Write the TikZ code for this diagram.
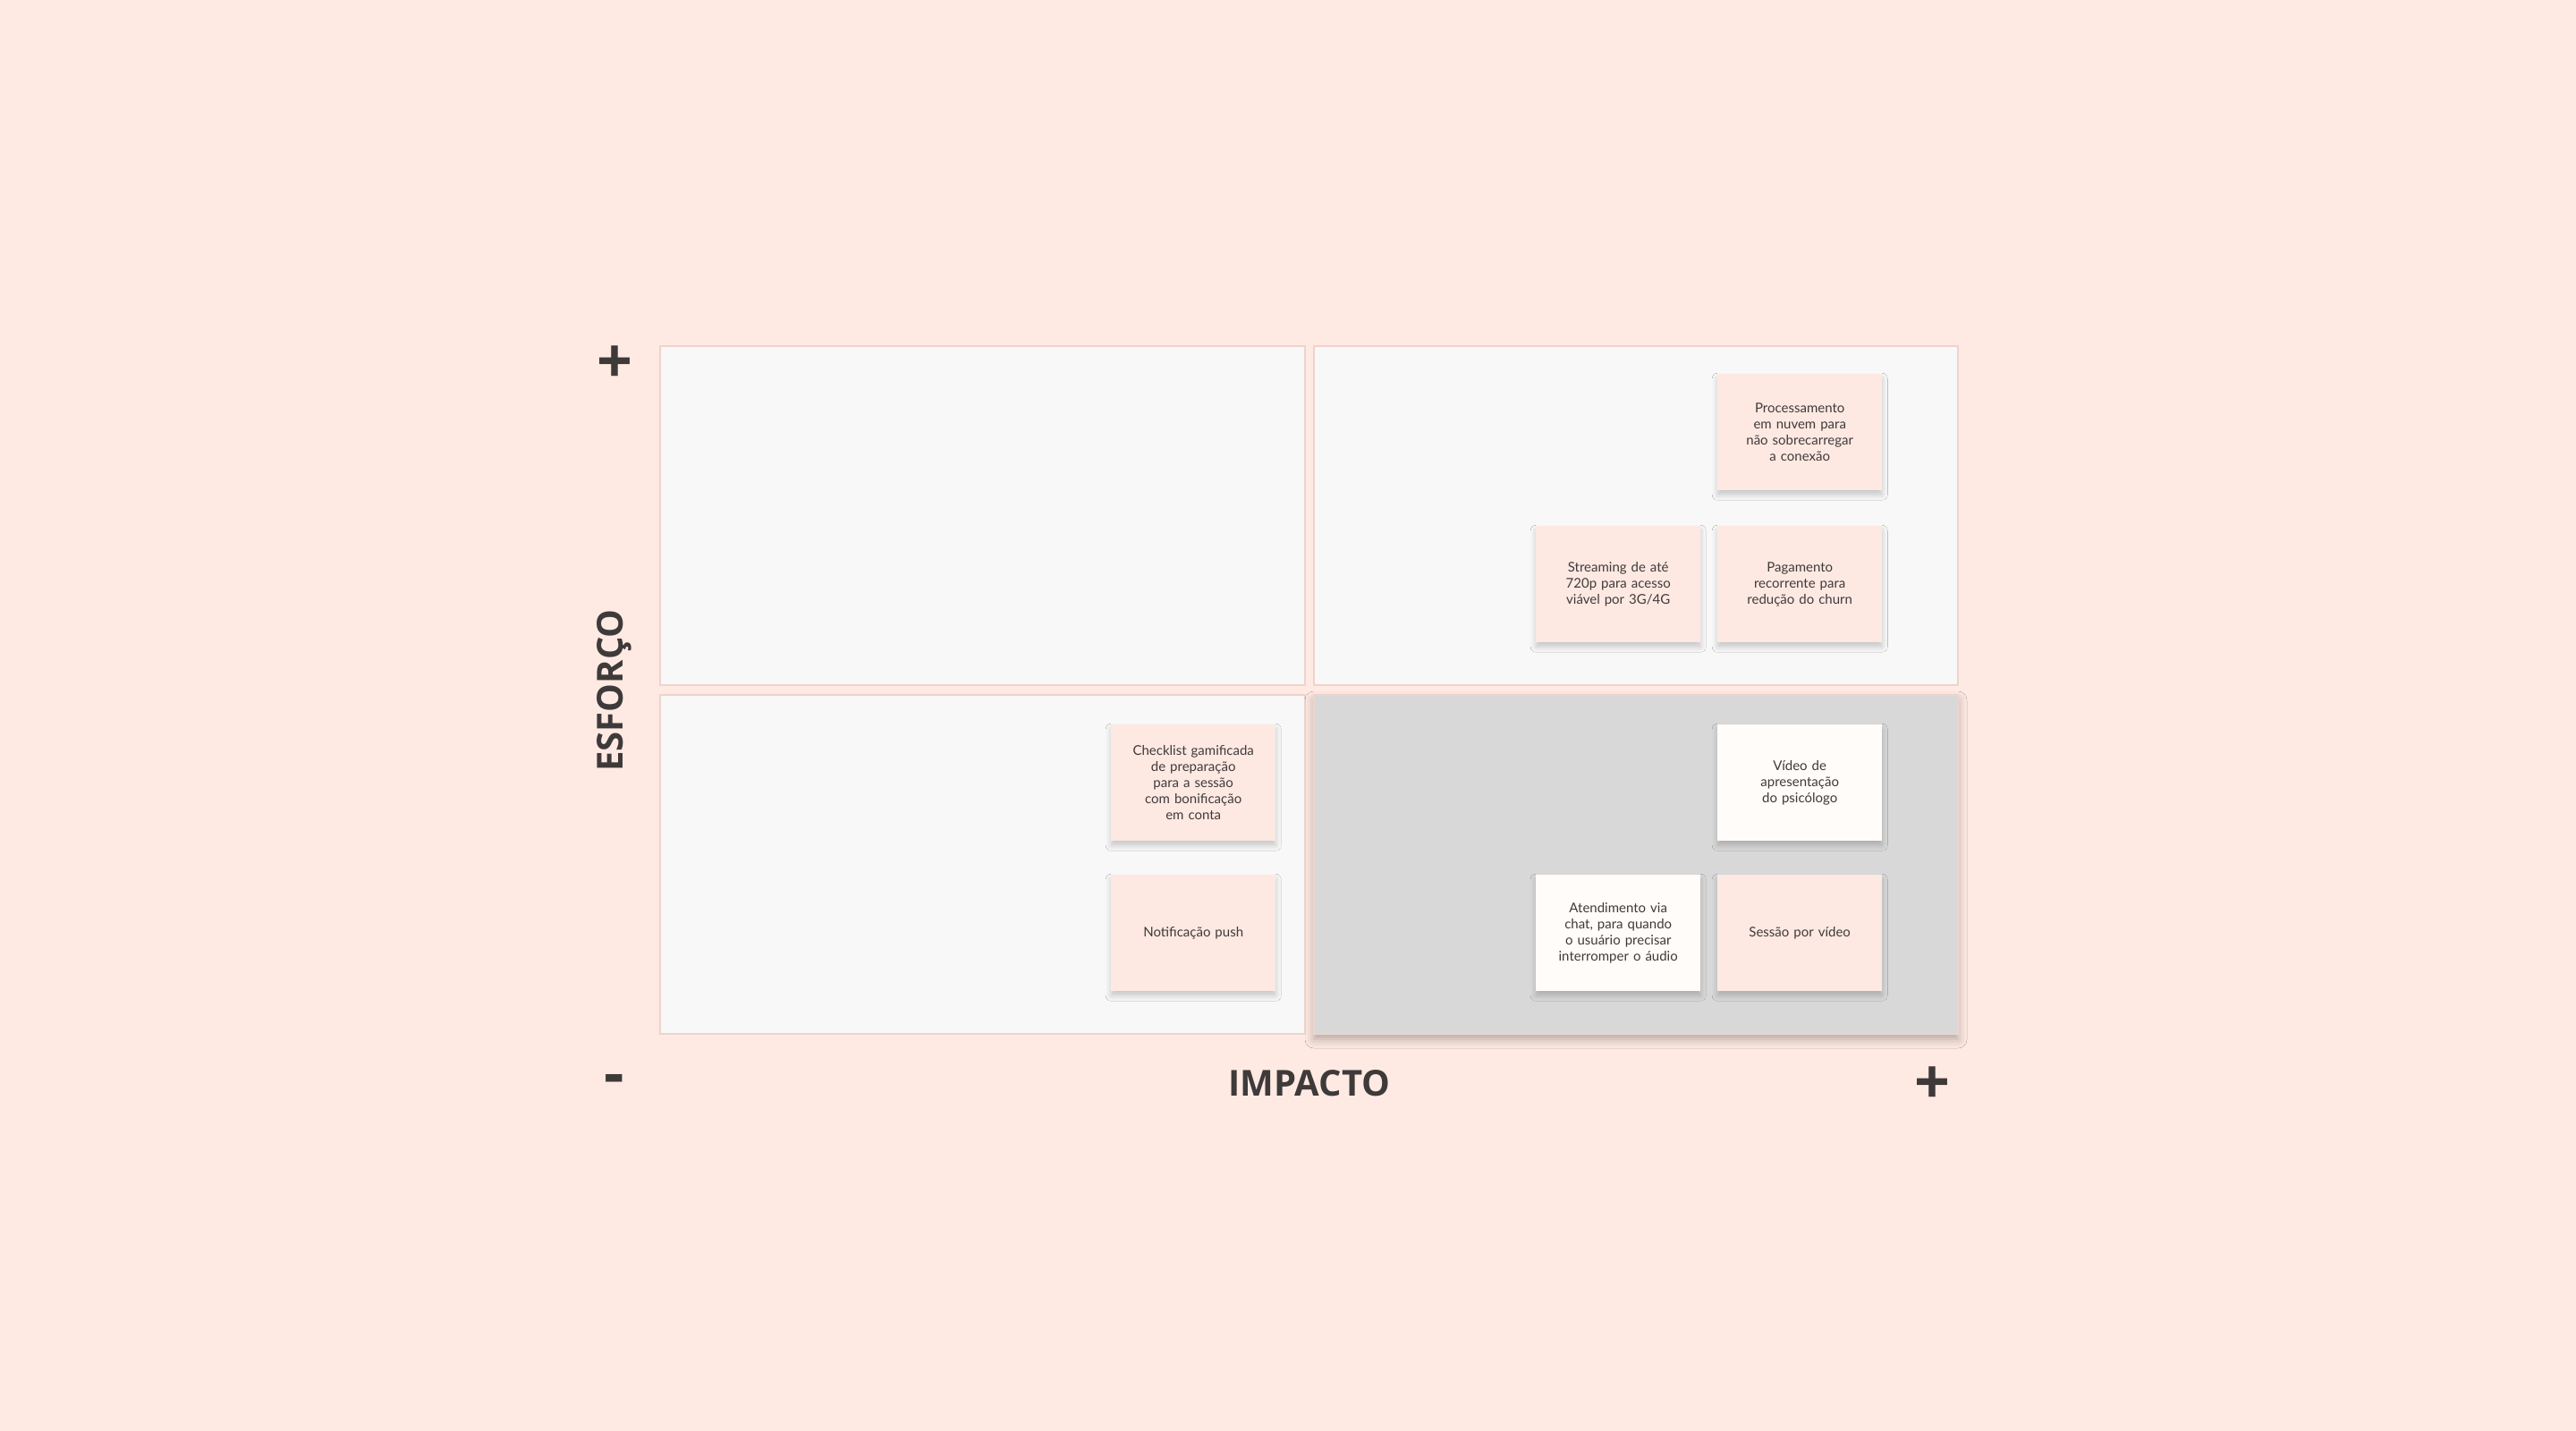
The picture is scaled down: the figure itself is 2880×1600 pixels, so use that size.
\documentclass[tikz,border=0pt]{standalone}
\usepackage{fontspec}
\setmainfont{Lato}
\newfontfamily\lbl{Open Sans}
\usetikzlibrary{shadows.blur}
\definecolor{bgc}{HTML}{FEEAE3}
\definecolor{quad}{HTML}{F8F8F8}
\definecolor{quadd}{HTML}{D9D8D9}
\definecolor{card}{HTML}{FEE9E2}
\definecolor{wcard}{HTML}{FFFCFA}
\definecolor{txt}{HTML}{3F3A3A}
\definecolor{edge}{HTML}{EED3CC}
\begin{document}
\begin{tikzpicture}[x=1pt,y=-1pt,
  q/.style={draw=edge,line width=1.5pt,fill=quad},
  c/.style={fill=card,minimum width=184pt,minimum height=130pt,inner sep=0pt,anchor=north west,
    align=center,text width=170pt,font=\fontsize{15}{18}\selectfont,text=txt,
    blur shadow={shadow xshift=0pt,shadow yshift=-5pt,shadow blur radius=6pt,shadow opacity=20}},
  w/.style={c,fill=wcard},
  lab/.style={font=\lbl\bfseries\fontsize{40}{44}\selectfont,text=txt}]
\fill[bgc] (0,0) rectangle (2880,1600);
\path[use as bounding box] (0,0) rectangle (2880,1600);
\draw[q] (738,387) rectangle (1459,766);
\draw[q] (1469,387) rectangle (2189,766);
\draw[q] (738,777) rectangle (1459,1156);
\draw[q,fill=quadd,blur shadow={shadow xshift=0pt,shadow yshift=-6pt,shadow blur radius=10pt,shadow opacity=30}] (1469,777) rectangle (2189,1156);
\node[c] (n1) at (1920,418) {Processamento\\em nuvem para\\não sobrecarregar\\a conexão};
\node[c] (n2) at (1717,588) {Streaming de até\\720p para acesso\\viável por 3G/4G};
\node[c] (n3) at (1920,588) {Pagamento\\recorrente para\\redução do churn};
\node[w] (n4) at (1920,810) {Vídeo de\\apresentação\\do psicólogo};
\node[w] (n5) at (1717,978) {Atendimento via\\chat, para quando\\o usuário precisar\\interromper o áudio};
\node[c] (n6) at (1920,978) {Sessão por vídeo};
\node[c] (n7) at (1242,810) {Checklist gamificada\\de preparação\\para a sessão\\com bonificação\\em conta};
\node[c] (n8) at (1242,978) {Notificação push};
\node[lab,font=\lbl\bfseries\fontsize{70}{70}\selectfont] (p1) at (687,408) {+};
\node[lab,rotate=90] (ef) at (687,772) {ESFORÇO};
\node[lab,font=\lbl\bfseries\fontsize{70}{70}\selectfont] (m) at (687,1213) {-};
\node[lab] (im) at (1464,1211) {IMPACTO};
\node[lab,font=\lbl\bfseries\fontsize{70}{70}\selectfont] (p2) at (2160,1214) {+};
\end{tikzpicture}
\end{document}
